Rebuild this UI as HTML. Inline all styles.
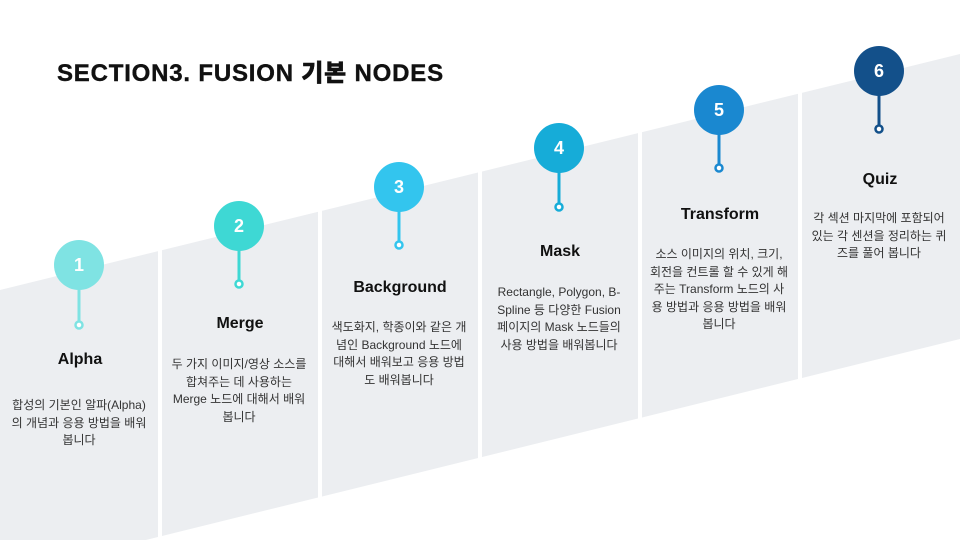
<!DOCTYPE html>
<html><head><meta charset="utf-8"><style>
html,body{margin:0;width:960px;height:540px;overflow:hidden}
body{background:#fff;font-family:"Liberation Sans","Noto Sans CJK KR",sans-serif;position:relative}
svg{position:absolute;left:0;top:0}
.h{position:absolute;left:57px;top:53px;font-size:24px;font-weight:900;letter-spacing:0.8px;color:#111;white-space:nowrap;-webkit-text-stroke:0.4px #111}
.t{position:absolute;width:160px;text-align:center;font-weight:bold;font-size:16px;color:#111}
.d{position:absolute;width:140px;text-align:center;font-size:12px;line-height:17.5px;color:#333}
</style></head><body>
<svg width="960" height="540">
<polygon points="0,290 960,54 960,339 0,576" fill="#eceef1"/>
<g fill="#fff"><rect x="158" y="0" width="4" height="540"/><rect x="318" y="0" width="4" height="540"/><rect x="478" y="0" width="4" height="540"/><rect x="638" y="0" width="4" height="540"/><rect x="798" y="0" width="4" height="540"/></g>
<g font-family="Liberation Sans, sans-serif" font-weight="bold" font-size="18" fill="#fff" text-anchor="middle">
<line x1="79" y1="265" x2="79" y2="321" stroke="#7fe3e3" stroke-width="3"/><circle cx="79" cy="325" r="3.5" fill="#fff" stroke="#7fe3e3" stroke-width="2.5"/><circle cx="79" cy="265" r="25" fill="#7fe3e3"/><text x="79" y="271">1</text>
<line x1="239" y1="226" x2="239" y2="280" stroke="#3ed8d4" stroke-width="3"/><circle cx="239" cy="284" r="3.5" fill="#fff" stroke="#3ed8d4" stroke-width="2.5"/><circle cx="239" cy="226" r="25" fill="#3ed8d4"/><text x="239" y="232">2</text>
<line x1="399" y1="187" x2="399" y2="241" stroke="#33c5ee" stroke-width="3"/><circle cx="399" cy="245" r="3.5" fill="#fff" stroke="#33c5ee" stroke-width="2.5"/><circle cx="399" cy="187" r="25" fill="#33c5ee"/><text x="399" y="193">3</text>
<line x1="559" y1="148" x2="559" y2="203" stroke="#16acd8" stroke-width="3"/><circle cx="559" cy="207" r="3.5" fill="#fff" stroke="#16acd8" stroke-width="2.5"/><circle cx="559" cy="148" r="25" fill="#16acd8"/><text x="559" y="154">4</text>
<line x1="719" y1="110" x2="719" y2="164" stroke="#1a88d0" stroke-width="3"/><circle cx="719" cy="168" r="3.5" fill="#fff" stroke="#1a88d0" stroke-width="2.5"/><circle cx="719" cy="110" r="25" fill="#1a88d0"/><text x="719" y="116">5</text>
<line x1="879" y1="71" x2="879" y2="125" stroke="#13508a" stroke-width="3"/><circle cx="879" cy="129" r="3.5" fill="#fff" stroke="#13508a" stroke-width="2.5"/><circle cx="879" cy="71" r="25" fill="#13508a"/><text x="879" y="77">6</text>
</g>
</svg>
<div class="h">SECTION3. FUSION 기본 NODES</div>
<div class="t" style="left:0;top:351px">Alpha</div>
<div class="d" style="left:9px;top:397px">합성의 기본인 알파(Alpha)<br>의 개념과 응용 방법을 배워<br>봅니다</div>
<div class="t" style="left:160px;top:315px">Merge</div>
<div class="d" style="left:169px;top:356px">두 가지 이미지/영상 소스를<br>합쳐주는 데 사용하는<br>Merge 노드에 대해서 배워<br>봅니다</div>
<div class="t" style="left:320px;top:279px">Background</div>
<div class="d" style="left:329px;top:319px">색도화지, 학종이와 같은 개<br>념인 Background 노드에<br>대해서 배워보고 응용 방법<br>도 배워봅니다</div>
<div class="t" style="left:480px;top:243px">Mask</div>
<div class="d" style="left:489px;top:284px">Rectangle, Polygon, B-<br>Spline 등 다양한 Fusion<br>페이지의 Mask 노드들의<br>사용 방법을 배워봅니다</div>
<div class="t" style="left:640px;top:206px">Transform</div>
<div class="d" style="left:649px;top:246px">소스 이미지의 위치, 크기,<br>회전을 컨트롤 할 수 있게 해<br>주는 Transform 노드의 사<br>용 방법과 응용 방법을 배워<br>봅니다</div>
<div class="t" style="left:800px;top:171px">Quiz</div>
<div class="d" style="left:809px;top:210px">각 섹션 마지막에 포함되어<br>있는 각 센션을 정리하는 퀴<br>즈를 풀어 봅니다</div>
</body></html>
